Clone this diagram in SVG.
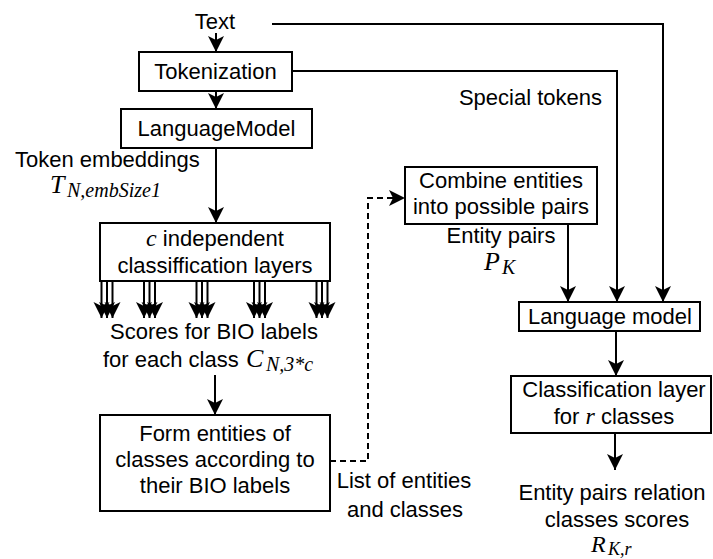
<svg xmlns="http://www.w3.org/2000/svg" width="713" height="559" viewBox="0 0 713 559">
<style>
.box{fill:#fff;stroke:#000;stroke-width:2}
.t{font-family:"Liberation Sans",Arial,sans-serif;font-size:22px;fill:#000}
.c{text-anchor:middle}
.m{font-family:"Liberation Serif","Times New Roman",serif;font-style:italic;font-size:26px;fill:#000}
.s{font-family:"Liberation Serif","Times New Roman",serif;font-style:italic;font-size:20px;fill:#000}
.ln{stroke:#000;stroke-width:2;fill:none}
.ar{marker-end:url(#ah)}
.dash{stroke-dasharray:6 4}
</style>
<defs>
<marker id="ah" markerUnits="userSpaceOnUse" markerWidth="18" markerHeight="18" refX="16" refY="8" orient="auto"><path d="M0,0 L16,8 L0,16 L4,8 Z" fill="#000"/></marker>
</defs>
<rect width="713" height="559" fill="#fff"/>
<g id="connectors">
<path class="ln ar" d="M216,33 V52"/>
<path class="ln ar" d="M216,91 V109"/>
<path class="ln ar" d="M216,148 V223"/>
<path class="ln ar" d="M101.5,281 V318"/><path class="ln ar" d="M107,281 V318"/><path class="ln ar" d="M112.5,281 V318"/>
<path class="ln ar" d="M144,281 V318"/><path class="ln ar" d="M149.5,281 V318"/><path class="ln ar" d="M155,281 V318"/>
<path class="ln ar" d="M196.5,281 V318"/><path class="ln ar" d="M202,281 V318"/><path class="ln ar" d="M207.5,281 V318"/>
<path class="ln ar" d="M254,281 V318"/><path class="ln ar" d="M259.5,281 V318"/><path class="ln ar" d="M265,281 V318"/>
<path class="ln ar" d="M316.5,281 V318"/><path class="ln ar" d="M322,281 V318"/><path class="ln ar" d="M327.5,281 V318"/>
<path class="ln ar" d="M215,375 V415"/>
<path class="ln ar dash" d="M330,461 H368 V198 H405"/>
<path class="ln ar" d="M568,224 V302"/>
<path class="ln ar" d="M292,71 H617 V302"/>
<path class="ln ar" d="M272,24 H663 V302"/>
<path class="ln ar" d="M616,331 V376"/>
<path class="ln ar" d="M615,433 V470"/>
</g>
<g id="text-input"><text class="t c" x="215" y="29">Text</text></g>
<g id="tokenization"><rect class="box" x="139" y="52" width="153" height="39"/><text class="t c" x="215.5" y="79">Tokenization</text></g>
<g id="language-model-1"><rect class="box" x="121" y="109" width="191" height="39"/><text class="t c" x="216.5" y="136">LanguageModel</text></g>
<g id="token-embeddings"><text class="t" x="15" y="167">Token embeddings</text><text class="m" x="50" y="193">T</text><text class="s" x="67" y="197">N,embSize1</text></g>
<g id="classification-layers"><rect class="box" x="100" y="223" width="230" height="58"/><text class="t c" x="215" y="246"><tspan class="m" style="font-size:24px">c</tspan> independent</text><text class="t c" x="215" y="273">classiffication layers</text></g>
<g id="scores"><text class="t c" x="214" y="339">Scores for BIO labels</text><text class="t" x="103" y="367">for each class</text><text class="m" x="246" y="367">C</text><text class="s" x="266" y="371">N,3*c</text></g>
<g id="form-entities"><rect class="box" x="100" y="415" width="230" height="96"/><text class="t c" x="215" y="441">Form entities of</text><text class="t c" x="215" y="467">classes according to</text><text class="t c" x="215" y="493">their BIO labels</text></g>
<g id="list-label"><text class="t c" x="404" y="488">List of entities</text><text class="t c" x="405" y="517">and classes</text></g>
<g id="combine"><rect class="box" x="405" y="167" width="192" height="57"/><text class="t c" x="501" y="188">Combine entities</text><text class="t c" x="501" y="214">into possible pairs</text></g>
<g id="entity-pairs"><text class="t c" x="501" y="243">Entity pairs</text><text class="m" x="484" y="270">P</text><text class="s" x="502" y="274">K</text></g>
<g id="special-tokens"><text class="t" x="602" y="105" text-anchor="end">Special tokens</text></g>
<g id="language-model-2"><rect class="box" x="519" y="302" width="181" height="29"/><text class="t c" x="610" y="324">Language model</text></g>
<g id="classification-r"><rect class="box" x="511" y="376" width="200" height="57"/><text class="t c" x="614" y="397">Classification layer</text><text class="t c" x="614" y="424">for <tspan class="m" style="font-size:24px">r</tspan> classes</text></g>
<g id="relation-scores"><text class="t c" x="612" y="500">Entity pairs relation</text><text class="t c" x="617" y="527">classes scores</text><text class="m" x="591" y="552" style="font-size:24px">R</text><text class="s" x="608" y="555" style="font-size:18px">K,r</text></g>
</svg>
